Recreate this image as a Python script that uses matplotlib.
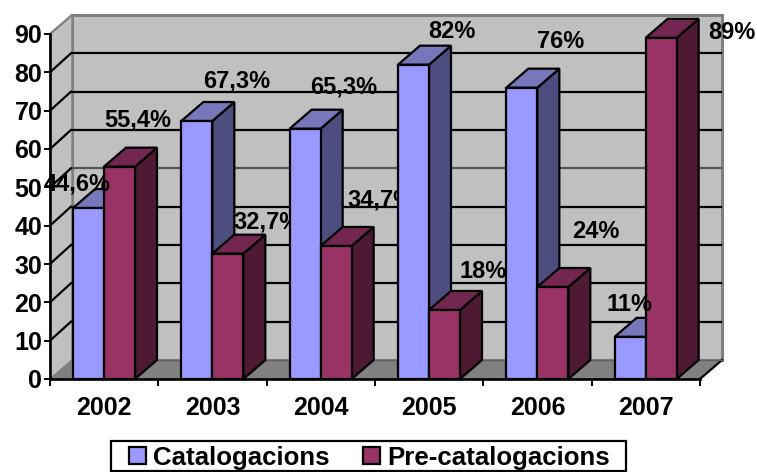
import matplotlib
matplotlib.use("Agg")
import matplotlib.pyplot as plt
from matplotlib.patches import Polygon, Patch, Rectangle

years = ["2002", "2003", "2004", "2005", "2006", "2007"]
catalogacions = [44.6, 67.3, 65.3, 82, 76, 11]
precatalogacions = [55.4, 32.7, 34.7, 18, 24, 89]
labels_cat = ["44,6%", "67,3%", "65,3%", "82%", "76%", "11%"]
labels_pre = ["55,4%", "32,7%", "34,7%", "18%", "24%", "89%"]
yticks = [0, 10, 20, 30, 40, 50, 60, 70, 80, 90]

# label offsets from the bar's top centre, in pixels
off_cat = [(-11.5, 24), (40, 40), (39, 42), (38.5, 33), (39, 46), (-1, 32)]
off_pre = [(18.5, 47), (39, 32), (45, 46), (38.5, 38), (43, 56), (71, 5)]

plt.rcParams["font.family"] = ["Liberation Sans", "DejaVu Sans"]
plt.rcParams["font.weight"] = "bold"

W, H = 757, 472
fig = plt.figure(figsize=(W / 100, H / 100), dpi=100)
ax = fig.add_axes([50 / W, (H - 379) / H, 650 / W, 345 / H])
ax.set_xlim(0, 6)
ax.set_ylim(0, 90)

DX = 22 / (650 / 6)      # depth in category units
DY = 19 / (345 / 90)     # depth in value units
GROUP = 23 / (650 / 6)   # gap before the first bar
BW = 31 / (650 / 6)      # bar width
LW = 1.6


def poly(pts, fc, ec="black", lw=LW, z=2):
    p = Polygon(pts, closed=True, facecolor=fc, edgecolor=ec, linewidth=lw,
                joinstyle="miter", clip_on=False, zorder=z)
    ax.add_patch(p)


# walls and floor
ax.patch.set_visible(False)
poly([(DX, DY), (6 + DX, DY), (6 + DX, 90 + DY), (DX, 90 + DY)], "#C0C0C0", "#808080", 2.2, 1)
poly([(0, 0), (DX, DY), (DX, 90 + DY), (0, 90)], "#C0C0C0", "#808080", 1.0, 1)
poly([(0, 0), (6, 0), (6 + DX, DY), (DX, DY)], "#808080", "#808080", 0.8, 1)
ax.plot([0, DX, DX], [90, 90 + DY, 90 + DY], color="#808080", lw=1.6, clip_on=False, zorder=1.1)
ax.plot([6, 6 + DX], [0, DY], color="black", lw=LW, clip_on=False, zorder=1.2)
ax.plot([DX, 6 + DX], [DY, DY], color="#606060", lw=1.0, clip_on=False, zorder=1.2)

# gridlines on the back and side walls
for v in yticks[1:-1]:
    col = "#555555" if v == 50 else "black"
    ax.plot([DX, 6 + DX - 0.01], [v + DY, v + DY], color=col, lw=LW, clip_on=False, zorder=1.3)
    ax.plot([0, DX - 0.01], [v, v + DY], color="black", lw=LW, clip_on=False, zorder=1.3)


def bar3d(x, v, front, top, side, z):
    poly([(x + BW, 0), (x + BW + DX, DY), (x + BW + DX, v + DY), (x + BW, v)], side, z=z)
    poly([(x, v), (x + BW, v), (x + BW + DX, v + DY), (x + DX, v + DY)], top, z=z)
    poly([(x, 0), (x + BW, 0), (x + BW, v), (x, v)], front, z=z)


def label(x, v, text, off, z):
    ax.annotate(text, xy=(x + BW / 2, v), xytext=(off[0] * 0.72, off[1] * 0.72),
                textcoords="offset points", ha="center", va="center",
                fontsize=17, fontweight="bold", color="black",
                annotation_clip=False, zorder=z)


for i in range(len(years)):
    z = 3 + i
    x0 = i + GROUP
    bar3d(x0, catalogacions[i], "#9999FF", "#7777BB", "#4D4D80", z)
    bar3d(x0 + BW, precatalogacions[i], "#993366", "#732650", "#4D1933", z + 0.1)
    label(x0, catalogacions[i], labels_cat[i], off_cat[i], z + 0.2)
    label(x0 + BW, precatalogacions[i], labels_pre[i], off_pre[i], z + 0.2)

# axes
for s in ("top", "right"):
    ax.spines[s].set_visible(False)
for s in ("left", "bottom"):
    ax.spines[s].set_linewidth(LW + 0.3)
    ax.spines[s].set_zorder(20)
ax.set_yticks(yticks)
ax.set_yticklabels([str(v) for v in yticks], fontsize=18, fontweight="bold")
ax.set_xticks(range(7))
ax.set_xticklabels([""] * 7)
ax.set_xticks([i + 0.5 for i in range(6)], minor=True)
ax.set_xticklabels(years, minor=True, fontsize=18, fontweight="bold")
ax.tick_params(axis="x", which="major", length=5, width=1.4, direction="out")
ax.tick_params(axis="x", which="minor", length=0, pad=12)
ax.tick_params(axis="y", length=4.5, width=1.4, direction="out", pad=1)

# legend frame is wider than the entries, so it is drawn on its own
fig.add_artist(Rectangle((110.5 / W, (H - 471) / H), 515.5 / W, 30 / H,
                         transform=fig.transFigure, facecolor="white",
                         edgecolor="black", linewidth=1.6, zorder=5))
leg = fig.legend(
    handles=[Patch(facecolor="#9999FF", edgecolor="black", linewidth=1.6, label="Catalogacions"),
             Patch(facecolor="#993366", edgecolor="black", linewidth=1.6, label="Pre-catalogacions")],
    ncol=2, loc="center left", bbox_to_anchor=(129 / W, (H - 457.5) / H),
    fontsize=18.6, frameon=False,
    handlelength=0.66, handleheight=0.62, handletextpad=0.27, columnspacing=1.3,
    borderpad=0, borderaxespad=0)
leg.set_zorder(6)

fig.savefig("out.png", dpi=100)
